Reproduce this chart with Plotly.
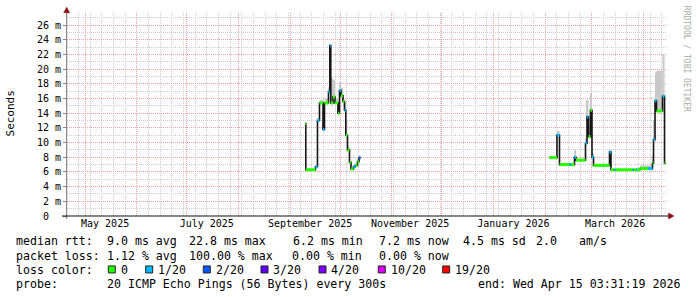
import plotly.graph_objects as go
from datetime import datetime

# ---------------- data ----------------
START = "2025-04-20 03:31:19"
END = "2026-04-15 03:31:19"

# y axis (milliseconds)
y_tick_vals = [0, 2, 4, 6, 8, 10, 12, 14, 16, 18, 20, 22, 24, 26]
y_tick_text = ["0\u00a0\u00a0", "2 m", "4 m", "6 m", "8 m", "10 m", "12 m", "14 m",
               "16 m", "18 m", "20 m", "22 m", "24 m", "26 m"]

# x axis labels (centred mid-month, every second month)
x_label_dates = ["2025-05-13", "2025-07-13", "2025-09-13", "2025-11-12", "2026-01-13", "2026-03-15"]
x_label_text = ["May 2025", "July 2025", "September 2025", "November 2025", "January 2026", "March 2026"]

loss_names = ["0", "1/20", "2/20", "3/20", "4/20", "10/20", "19/20"]
loss_colors = ["#26ff00", "#00b8ff", "#0059ff", "#5e00ff", "#7e00ff", "#dd00ff", "#ff0000"]

# cluster 1 (Sep - Oct 2025): median rtt (ms), loss class index, smoke top (ms)
c1_dates = ["2025-09-09 22:30", "2025-09-10 10:00", "2025-09-16 05:45", "2025-09-17 10:30",
            "2025-09-18 15:20", "2025-09-20 17:45", "2025-09-21 15:20", "2025-09-24 01:00",
            "2025-09-24 19:40", "2025-09-25 10:05", "2025-09-26 17:45", "2025-09-27 22:30",
            "2025-09-29 17:45", "2025-09-30 15:20", "2025-10-01 13:00", "2025-10-02 17:45",
            "2025-10-03 15:20", "2025-10-04 10:05", "2025-10-05 10:35", "2025-10-06 15:20",
            "2025-10-07 13:00", "2025-10-09 01:00", "2025-10-10 05:45", "2025-10-11 10:35",
            "2025-10-12 08:10", "2025-10-13 05:45"]
c1_median = [12.6, 6.3, 6.7, 13.0, 15.4, 11.8, 15.4, 16.9, 23.2, 15.4, 16.2, 15.4,
             14.0, 17.1, 16.4, 15.6, 14.4, 11.0, 9.0, 7.3, 6.4, 6.7, 6.9, 7.4, 7.9, 7.9]
c1_loss = [0, 0, 1, 1, 0, 1, 0, 1, 1, 0, 0, 0, 0, 1, 0, 0, 1, 0, 0, 0, 0, 1, 0, 0, 2, 2]
c1_smoke = [12.6, 6.3, 6.7, 13.4, 15.8, 12.5, 16.0, 17.5, 23.2, 18.8, 18.5, 16.0,
            15.0, 18.3, 17.5, 16.0, 15.5, 13.0, 9.5, 7.5, 6.6, 7.0, 7.2, 7.8, 8.3, 7.9]

# cluster 2 (Feb - Apr 2026)
c2_dates = ["2026-02-03 15:20", "2026-02-08 03:20", "2026-02-09 15:20", "2026-02-15 15:20",
            "2026-02-16 13:00", "2026-02-18 15:20", "2026-02-19 13:00", "2026-02-25 05:45",
            "2026-02-26 03:20", "2026-02-27 01:00", "2026-02-28 05:45", "2026-03-01 03:35",
            "2026-03-02 01:10", "2026-03-11 15:35", "2026-03-12 13:10", "2026-03-14 15:35",
            "2026-03-15 06:00", "2026-03-25 10:50", "2026-03-26 01:10", "2026-03-27 13:10",
            "2026-03-28 03:35", "2026-03-29 22:50", "2026-04-03 18:15", "2026-04-06 11:00",
            "2026-04-07 01:25", "2026-04-07 23:00", "2026-04-08 20:40", "2026-04-12 11:00",
            "2026-04-13 15:50", "2026-04-14 06:15"]
c2_median = [7.95, 11.0, 7.0, 7.0, 7.0, 8.0, 7.6, 9.9, 13.5, 10.8, 14.4, 8.0,
             6.9, 8.7, 6.3, 6.3, 6.3, 6.3, 6.3, 6.3, 6.3, 6.45, 6.45, 7.2,
             10.4, 15.7, 14.3, 16.3, 7.2, 7.2]
c2_loss = [0, 1, 0, 1, 0, 1, 0, 1, 1, 0, 0, 1, 0, 1, 0, 1, 0, 1, 0, 1, 0, 0, 1, 0,
           1, 1, 0, 1, 0, 0]
c2_smoke = [8.1, 11.6, 7.1, 7.0, 7.0, 9.0, 7.8, 10.6, 15.8, 12.5, 16.8, 8.5,
            7.0, 9.0, 6.3, 6.3, 6.3, 6.3, 6.3, 6.3, 6.3, 6.9, 6.9, 8.2,
            13.0, 19.5, 19.8, 22.0, 7.2, 7.2]

stat_line1 = ["median rtt:", "9.0 ms avg", "22.8 ms max", "6.2 ms min", "7.2 ms now",
              "4.5 ms sd", "2.0", "am/s"]
stat_line2 = ["packet loss:", "1.12 % avg", "100.00 % max", "0.00 % min", "0.00 % now"]
stat_line4 = ["probe:", "20 ICMP Echo Pings (56 Bytes) every 300s",
              "end: Wed Apr 15 03:31:19 2026"]

# ---------------- layout geometry ----------------
W, H = 697, 297
L, R, T, B = 67, 30, 13.3, 81.3
PW = W - L - R
PH = H - T - B
PX_PER_MS = 7.32
Y_MAX = PH / PX_PER_MS


def px(x):
    return (x - L) / PW


def py(y):
    return (H - B - y) / PH


def to_dt(s):
    return datetime.strptime(s, "%Y-%m-%d %H:%M")


fig = go.Figure()

# ---------------- smoke ----------------
for dates, med, smoke in [(c1_dates, c1_median, c1_smoke), (c2_dates, c2_median, c2_smoke)]:
    xs, bases, hs, ws = [], [], [], []
    for i in range(len(dates) - 1):
        if smoke[i] > med[i]:
            xs.append(dates[i])
            bases.append(med[i])
            hs.append(smoke[i] - med[i])
            ws.append((to_dt(dates[i + 1]) - to_dt(dates[i])).total_seconds() * 1000)
    fig.add_trace(go.Bar(x=xs, y=hs, base=bases, width=ws, offset=0,
                         marker=dict(color="#c8c8c8", line=dict(width=0)),
                         showlegend=False, hoverinfo="skip"))

# ---------------- median line (black, step) ----------------
line_x = c1_dates + [None] + c2_dates
line_y = c1_median + [None] + c2_median
fig.add_trace(go.Scatter(x=line_x, y=line_y, mode="lines",
                         line=dict(color="#161616", width=1.6, shape="hv"),
                         connectgaps=False, showlegend=False, hoverinfo="skip"))

# ---------------- loss-coloured median segments ----------------
for k, col in enumerate(loss_colors):
    sx, sy = [], []
    for dates, med, loss in [(c1_dates, c1_median, c1_loss), (c2_dates, c2_median, c2_loss)]:
        for i in range(len(dates) - 1):
            if loss[i] == k:
                sx += [dates[i], dates[i + 1], None]
                sy += [med[i], med[i], None]
    if sx:
        fig.add_trace(go.Scatter(x=sx, y=sy, mode="lines",
                                 line=dict(color=col, width=3),
                                 showlegend=False, hoverinfo="skip"))

# dummy trace for label axis
fig.add_trace(go.Scatter(x=[START, END], y=[None, None], xaxis="x2", mode="lines",
                         showlegend=False, hoverinfo="skip"))

MONO = "DejaVu Sans Mono"
MGRID = "rgb(236,160,160)"
GRID = "rgb(205,205,205)"

fig.update_layout(
    width=W, height=H, autosize=False,
    margin=dict(l=L, r=R, t=T, b=B, pad=0),
    paper_bgcolor="white", plot_bgcolor="white",
    showlegend=False,
    barmode="overlay",
    font=dict(family=MONO, size=10, color="black"),
    xaxis=dict(type="date", range=[START, END], showline=False, zeroline=False,
               tick0="2025-05-01", dtick="M1", showticklabels=False, ticks="",
               showgrid=True, gridcolor=MGRID, gridwidth=1, griddash="1px,1px",
               minor=dict(tick0="2025-04-20", dtick=7 * 86400000, showgrid=True,
                          gridcolor=GRID, gridwidth=1, griddash="1px,1px", ticks="")),
    xaxis2=dict(type="date", range=[START, END], overlaying="x", side="bottom",
                showline=False, zeroline=False, showgrid=False, ticks="",
                tickmode="array", tickvals=x_label_dates, ticktext=x_label_text,
                tickfont=dict(family=MONO, size=10, color="black")),
    yaxis=dict(range=[0, Y_MAX], showline=False, zeroline=False,
               tickmode="array", tickvals=y_tick_vals, ticktext=y_tick_text,
               ticks="outside", ticklen=3, tickcolor="#888888",
               tickfont=dict(family=MONO, size=10, color="black"),
               showgrid=True, gridcolor=MGRID, gridwidth=1, griddash="1px,1px",
               minor=dict(dtick=1, showgrid=True, gridcolor=GRID, gridwidth=1,
                          griddash="1px,1px", ticks="")),
)

shapes = []
# axis lines
shapes.append(dict(type="line", xref="paper", yref="paper",
                   x0=px(66.7), x1=px(66.7), y0=py(218.5), y1=py(11),
                   line=dict(color="#707070", width=1)))
shapes.append(dict(type="line", xref="paper", yref="paper",
                   x0=px(62), x1=px(670), y0=py(215.7), y1=py(215.7),
                   line=dict(color="#111111", width=1)))
# arrows
shapes.append(dict(type="path", xref="paper", yref="paper",
                   path=f"M {px(63.7)} {py(13)} L {px(66.7)} {py(7.5)} L {px(69.7)} {py(13)} Z",
                   fillcolor="#8b1010", line=dict(color="#8b1010", width=0.5)))
shapes.append(dict(type="path", xref="paper", yref="paper",
                   path=f"M {px(668.5)} {py(212.7)} L {px(674)} {py(215.7)} L {px(668.5)} {py(218.7)} Z",
                   fillcolor="#8b1010", line=dict(color="#8b1010", width=0.5)))

annotations = []


def add_text(x, y, text, size=11.6, color="black", angle=0, xanchor="left"):
    annotations.append(dict(x=px(x), y=py(y), xref="paper", yref="paper", text=text,
                            showarrow=False, xanchor=xanchor, yanchor="middle",
                            textangle=angle,
                            font=dict(family=MONO, size=size, color=color)))


OFF = 2.3
line1_x = [16, 107.3, 189.3, 293.3, 379.3, 463, 536.7, 579.3]
for xx, t in zip(line1_x, stat_line1):
    add_text(xx - OFF, 241, t)
line2_x = [16, 107.3, 189.3, 292.3, 379.3]
for xx, t in zip(line2_x, stat_line2):
    add_text(xx - OFF, 255.2, t)
add_text(16 - OFF, 269.3, "loss color:")
box_x = [108.3, 145.7, 203.3, 261, 319, 378.3, 442.7]
lab_x = [121, 158.3, 216, 273.3, 331.7, 391.7, 455]
for bx, lx, name, col in zip(box_x, lab_x, loss_names, loss_colors):
    shapes.append(dict(type="rect", xref="paper", yref="paper",
                       x0=px(bx), x1=px(bx + 7), y0=py(272.5), y1=py(265.5),
                       fillcolor=col, line=dict(color="#222222", width=1)))
    add_text(lx - OFF, 269.3, name)
line4_x = [16, 107.3, 478.3]
for xx, t in zip(line4_x, stat_line4):
    add_text(xx - OFF, 283.3, t)

# y axis title and watermark
add_text(10, 113.5, "Seconds", size=11, angle=-90, xanchor="center")
add_text(686, 59, "RRDTOOL / TOBI OETIKER", size=8, color="#aaaaaa", angle=90, xanchor="center")

fig.update_layout(shapes=shapes, annotations=annotations)

fig.write_html("out.html")
